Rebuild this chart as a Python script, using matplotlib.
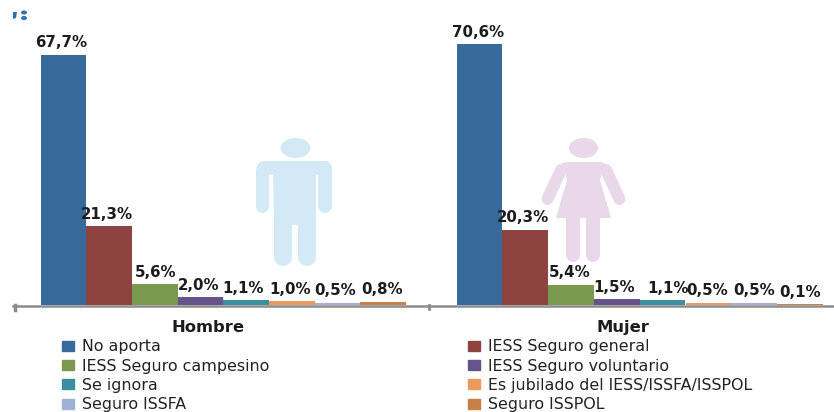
# -*- coding: utf-8 -*-
import matplotlib
matplotlib.use("Agg")
import matplotlib.pyplot as plt
from matplotlib.patches import Ellipse, Polygon, Patch

W, H = 834, 412

categories = ["No aporta", "IESS Seguro general", "IESS Seguro campesino",
              "IESS Seguro voluntario", "Se ignora",
              "Es jubilado del IESS/ISSFA/ISSPOL", "Seguro ISSFA", "Seguro ISSPOL"]
hombre = [67.7, 21.3, 5.6, 2.0, 1.1, 1.0, 0.5, 0.8]
mujer = [70.6, 20.3, 5.4, 1.5, 1.1, 0.5, 0.5, 0.1]
colours = ["#376a9b", "#8f4340", "#7a994f", "#66538a",
           "#3b8fa0", "#ec9a5c", "#9fb2d4", "#c87f48"]

# label nudges in pixels, the labels in the reference are not quite centred
nudge_h = [-2, -2, 1, -2, -3, -2, -2, -1]
nudge_m = [-1, -2, -1, -3, 5, -1, 0, 0]


def px_rect(x0, y0, x1, y1):
    return [x0 / W, 1 - y1 / H, (x1 - x0) / W, (y1 - y0) / H]


fig = plt.figure(figsize=(W / 100, H / 100), dpi=100)
plt.rcParams["font.family"] = "DejaVu Sans"

# pixel overlay for the two silhouettes
bg = fig.add_axes([0, 0, 1, 1], zorder=0)
bg.set_xlim(0, W)
bg.set_ylim(H, 0)
bg.axis("off")


def limb(x, y, width_px, colour):
    bg.plot(x, y, color=colour, lw=width_px * 0.72, solid_capstyle="round",
            solid_joinstyle="round")


man_c = "#d3e9f5"
bg.add_patch(Ellipse((295.5, 148), 30, 20, color=man_c, lw=0))
limb([264, 325], [168, 168], 14, man_c)
limb([262.5, 262.5], [170, 205.5], 13, man_c)
limb([325.5, 325.5], [170, 205.5], 14, man_c)
bg.add_patch(Polygon([(273, 165), (316, 165), (316, 225), (274, 225)], color=man_c, lw=0))
limb([283, 283], [215, 257], 18, man_c)
limb([307, 307], [215, 257], 18, man_c)

wom_c = "#e8d8ea"
bg.add_patch(Ellipse((583.5, 148), 29, 20, color=wom_c, lw=0))
limb([566, 601], [166, 166], 8, wom_c)
limb([561, 547.5], [170, 199], 12, wom_c)
limb([606, 619.5], [170, 199], 12, wom_c)
bg.add_patch(Polygon([(562, 163), (605, 163), (600, 180), (611, 218),
                      (556, 218), (567, 180)], color=wom_c, lw=0))
limb([573.5, 573.5], [215, 255], 14, wom_c)
limb([593, 593], [215, 255], 14, wom_c)

# fragments of the logo, top left
bg.add_patch(Polygon([(13, 12), (17, 12), (16, 18), (13, 19)], color="#2f6fb5", lw=0))
bg.add_patch(Ellipse((24, 12.5), 6, 4, color="#2f6fb5", lw=0))
bg.add_patch(Ellipse((24, 18), 6, 4, color="#2f6fb5", lw=0))

# axis line across both panels with its small ticks
bg.plot([13, W], [305.5, 305.5], color="#8c8c8c", lw=1.8, zorder=5)
bg.plot([15, 15], [305, 310], color="#8c8c8c", lw=2.5, zorder=5)
bg.plot([429, 429], [305, 309], color="#8c8c8c", lw=2, zorder=5)


def panel(rect, values, nudges, name, label_x, first_bar_px, step_px):
    x0, y0, x1, y1 = rect
    ax = fig.add_axes(px_rect(x0, y0, x1, y1), zorder=1)
    ax.patch.set_alpha(0)
    ax.set_xlim((x0 - first_bar_px) / step_px - 0.5, (x1 - first_bar_px) / step_px - 0.5)
    ax.set_ylim(0, (y1 - y0) / 3.69)
    ax.bar(range(len(values)), values, width=1.0, color=colours, linewidth=0)
    for i, v in enumerate(values):
        ax.annotate(f"{v:.1f}%".replace(".", ","), (i, v),
                    xytext=(nudges[i] * 0.72, 8.5), textcoords="offset points",
                    ha="center", va="center", fontsize=10.8, fontweight="bold",
                    color="#1c1c1c")
    for s in ax.spines.values():
        s.set_visible(False)
    ax.set_yticks([])
    ax.set_xticks([])
    ax.set_xlabel(name, x=(label_x - x0) / (x1 - x0), labelpad=11,
                  fontsize=11.8, fontweight="bold", color="#1c1c1c")
    return ax


ax1 = panel((13, 10, 429, 304.5), hombre, nudge_h, "Hombre", 208, 40.5, 45.7)
ax2 = panel((429, 10, 834, 304.5), mujer, nudge_m, "Mujer", 623, 456.5, 45.8)


def add_legend(idx, x_px):
    handles = [Patch(color=colours[i], label=categories[i]) for i in idx]
    fig.legend(handles=handles, loc="upper left",
               bbox_to_anchor=(x_px / W, 1 - 339.5 / H), frameon=False,
               fontsize=11.4, handlelength=0.76, handleheight=0.6,
               handletextpad=0.5, labelspacing=0.27, borderpad=0, borderaxespad=0,
               labelcolor="#222222")


add_legend([0, 2, 4, 6], 62)
add_legend([1, 3, 5, 7], 468)

fig.savefig("out.png", dpi=100)
